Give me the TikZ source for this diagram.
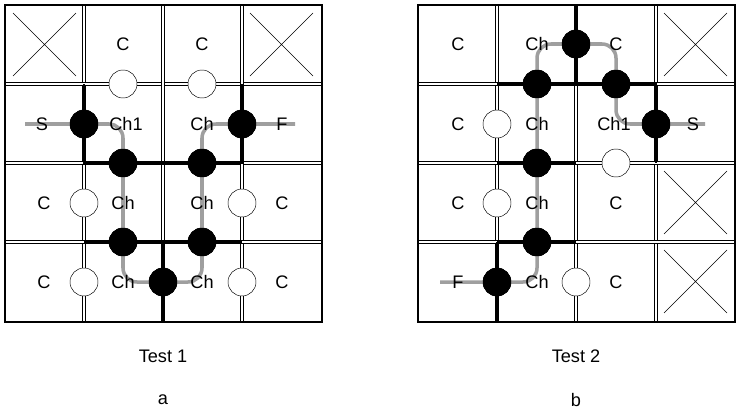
\documentclass[tikz,border=0pt]{standalone}
\usepackage{fontspec}
\setmainfont{Liberation Sans}
\usetikzlibrary{positioning}

\tikzset{
  wall/.style={draw=black,double=white,line width=0.5pt,double distance=1.6pt},
  door/.style={line width=2.4pt},
  frame/.style={line width=1.6pt},
  route/.style={line width=3pt,gray!75,rounded corners=12},
  shut/.style={circle,draw,fill=black,minimum size=28*0.03cm,inner sep=0pt},
  open/.style={circle,draw,fill=white,minimum size=28*0.03cm,inner sep=0pt},
  lab/.style={font=\fontsize{15.5}{17}\selectfont,inner sep=0pt},
  title/.style={font=\fontsize{15.5}{17}\selectfont}
}

\begin{document}
\begin{tikzpicture}[x=0.03cm,y=-0.03cm]
\useasboundingbox (0,0) rectangle (740,411);

% Test 1 grid
\foreach \gx in {84,163,242} {
  \draw[wall] (\gx,5) -- (\gx,322);
  \draw[wall] (5,\gx) -- (322,\gx);
}
\draw[frame] (5,5) rectangle (322,322);
\foreach \cx/\cy in {5/5,242/5} {
  \draw[thin] (\cx+8,\cy+8) -- (\cx+71,\cy+71) (\cx+71,\cy+8) -- (\cx+8,\cy+71);
}
\draw[door] (84,84) -- (84,163) -- (242,163) -- (242,84);
\draw[door] (84,242) -- (242,242);
\draw[door] (163,242) -- (163,322);

\coordinate (s1) at (25,124);
\coordinate (f1) at (295,124);
\node[shut] (p1) at (84,124) {};
\node[shut] (p2) at (123,163) {};
\node[shut] (p3) at (123,242) {};
\node[shut] (p4) at (163,282) {};
\node[shut] (p5) at (202,242) {};
\node[shut] (p6) at (202,163) {};
\node[shut] (p7) at (242,124) {};
\draw[route] (s1) -- (p1.center) -- (p2.center |- p1.center) -- (p2.center) -- (p3.center)
  -- (p3.center |- p4.center) -- (p4.center) -- (p5.center |- p4.center) -- (p5.center)
  -- (p6.center) -- (p6.center |- p7.center) -- (p7.center) -- (f1);
\foreach \n in {p1,p2,p3,p4,p5,p6,p7} \node[shut] at (\n) {};
\node[open] (q1) at (123,84) {};
\node[open] (q2) at (202,84) {};
\node[open] (q3) at (84,203) {};
\node[open] (q4) at (242,203) {};
\node[open] (q5) at (84,282) {};
\node[open] (q6) at (242,282) {};

\node[lab] at (42,124) {S};
\node[lab] at (282,124) {F};
\node[lab] at (126,124) {Ch1};
\node[lab] at (202,124) {Ch};
\foreach \tx/\ty in {123/44,202/44,44/203,282/203,44/282,282/282}
  \node[lab] at (\tx,\ty) {C};
\foreach \tx/\ty in {123/203,202/203,123/282,202/282}
  \node[lab] at (\tx,\ty) {Ch};

\node[title] (t1) at (163,356) {Test 1};
\node[title] (a) at (163,400) {a};

% Test 2 grid
\foreach \gx in {497,576,656} \draw[wall] (\gx,5) -- (\gx,322);
\foreach \gy in {84,163,242} \draw[wall] (418,\gy) -- (735,\gy);
\draw[frame] (418,5) rectangle (735,322);
\foreach \cx/\cy in {656/5,656/163,656/242} {
  \draw[thin] (\cx+8,\cy+8) -- (\cx+71,\cy+71) (\cx+71,\cy+8) -- (\cx+8,\cy+71);
}
\draw[door] (576,5) -- (576,84);
\draw[door] (497,84) -- (656,84) -- (656,163);
\draw[door] (497,163) -- (576,163);
\draw[door] (497,242) -- (576,242);
\draw[door] (497,242) -- (497,322);

\coordinate (s2) at (705,124);
\coordinate (f2) at (440,282);
\node[shut] (r1) at (656,124) {};
\node[shut] (r2) at (616,84) {};
\node[shut] (r3) at (576,44) {};
\node[shut] (r4) at (537,84) {};
\node[shut] (r5) at (537,163) {};
\node[shut] (r6) at (537,242) {};
\node[shut] (r7) at (497,282) {};
\draw[route] (s2) -- (r1.center) -- (r2.center |- r1.center) -- (r2.center)
  -- (r2.center |- r3.center) -- (r3.center) -- (r4.center |- r3.center) -- (r4.center)
  -- (r5.center) -- (r6.center) -- (r6.center |- r7.center) -- (r7.center) -- (f2);
\foreach \n in {r1,r2,r3,r4,r5,r6,r7} \node[shut] at (\n) {};
\node[open] (u1) at (497,124) {};
\node[open] (u2) at (616,163) {};
\node[open] (u3) at (497,203) {};
\node[open] (u4) at (576,282) {};

\node[lab] at (693,124) {S};
\node[lab] at (458,282) {F};
\node[lab] at (614,124) {Ch1};
\foreach \tx/\ty in {458/44,616/44,458/124,458/203,616/203,616/282}
  \node[lab] at (\tx,\ty) {C};
\foreach \tx/\ty in {537/44,537/124,537/203,537/282}
  \node[lab] at (\tx,\ty) {Ch};

\node[title] (t2) at (576,356) {Test 2};
\node[title] (b) at (576,400) {b};
\end{tikzpicture}
\end{document}
